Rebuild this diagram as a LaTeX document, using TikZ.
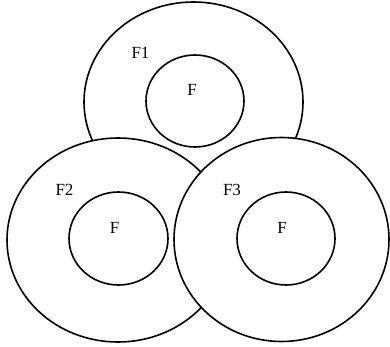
\documentclass[tikz,border=0pt]{standalone}
\usepackage{fontspec}
\setmainfont{Liberation Serif}
\begin{document}
\begin{tikzpicture}[x=1pt,y=-1pt,
  ring/.style={draw=black,fill=white,line width=1.6pt},
  lbl/.style={font=\fontsize{17}{19}\selectfont,inner sep=0pt,anchor=center}]
\useasboundingbox (0,0) rectangle (390,347);
% top
\draw[ring] (193.5,102) ellipse [x radius=109.5, y radius=100];
\draw[ring] (195,101) ellipse [x radius=49, y radius=46];
\node[lbl] (f1) at (140.5,53) {F1};
\node[lbl] (fa) at (192,90) {F};
% left
\draw[ring] (118,240) ellipse [x radius=111, y radius=102];
\draw[ring] (118.5,238.5) ellipse [x radius=49.5, y radius=46.5];
\node[lbl] (f2) at (64.5,190) {F2};
\node[lbl] (fb) at (114.5,228) {F};
% right
\draw[ring] (281.5,239.5) ellipse [x radius=107.5, y radius=102];
\draw[ring] (286,238.5) ellipse [x radius=49, y radius=46.5];
\node[lbl] (f3) at (232,190) {F3};
\node[lbl] (fc) at (282,228) {F};
\end{tikzpicture}
\end{document}
